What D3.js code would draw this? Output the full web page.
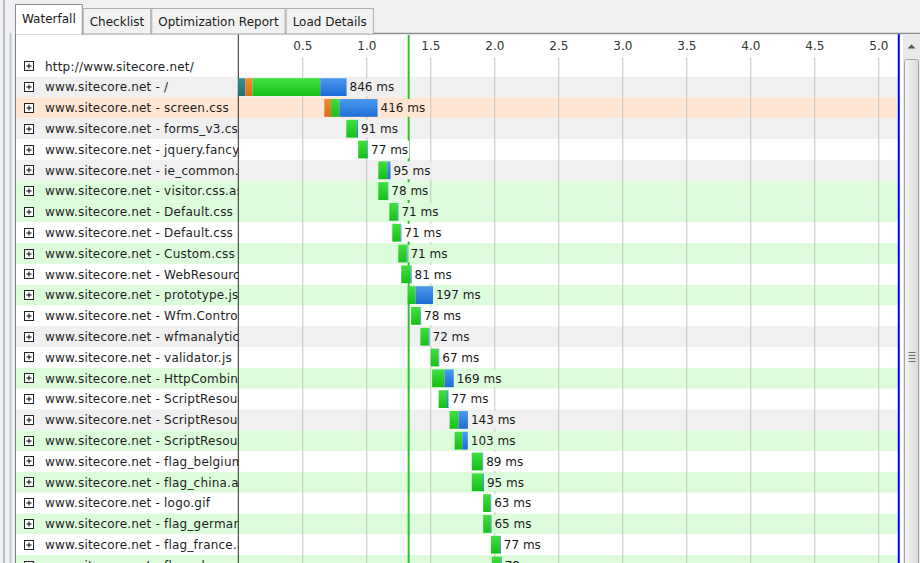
<!DOCTYPE html>
<html>
<head>
<meta charset="utf-8">
<script src="https://cdn.jsdelivr.net/npm/d3@7"></script>
<style>
  body { margin: 0; background: #f0f0f0; }
  svg { display: block; font-family: "DejaVu Sans", sans-serif; font-size: 12px; }
</style>
</head>
<body>
<div id="wrapper"></div>
<script>
// request names as shown in the list (clipped by the column)
const resources = [
    "http://www.sitecore.net/",
    "www.sitecore.net - /",
    "www.sitecore.net - screen.css",
    "www.sitecore.net - forms_v3.css",
    "www.sitecore.net - jquery.fancybox.css",
    "www.sitecore.net - ie_common.css",
    "www.sitecore.net - visitor.css.aspx",
    "www.sitecore.net - Default.css",
    "www.sitecore.net - Default.css",
    "www.sitecore.net - Custom.css",
    "www.sitecore.net - WebResource.axd",
    "www.sitecore.net - prototype.js",
    "www.sitecore.net - Wfm.Controls.js",
    "www.sitecore.net - wfmanalytics.js",
    "www.sitecore.net - validator.js",
    "www.sitecore.net - HttpCombiner.ashx",
    "www.sitecore.net - ScriptResource.axd",
    "www.sitecore.net - ScriptResource.axd",
    "www.sitecore.net - ScriptResource.axd",
    "www.sitecore.net - flag_belgium.gif",
    "www.sitecore.net - flag_china.aspx",
    "www.sitecore.net - logo.gif",
    "www.sitecore.net - flag_germany.gif",
    "www.sitecore.net - flag_france.aspx",
    "www.sitecore.net - flag_uk.aspx"
];
// timings in ms (null = page row, no bar)
const startMs    = [null, 0, 672, 844, 937, 1094, 1094, 1180, 1203, 1250, 1273, 1324, 1350, 1422, 1503, 1514, 1565, 1651, 1690, 1824, 1824, 1913, 1913, 1974, 1980];
const dnsMs      = [0, 55, 0, 0, 0, 0, 0, 0, 0, 0, 0, 0, 0, 0, 0, 0, 0, 0, 0, 0, 0, 0, 0, 0, 0];
const connectMs  = [0, 55, 53, 0, 0, 0, 0, 0, 0, 0, 0, 0, 0, 0, 0, 0, 0, 0, 0, 0, 0, 0, 0, 0, 0];
const waitMs     = [0, 530, 65, 83, 72, 70, 74, 66, 66, 66, 74, 60, 73, 66, 62, 97, 66, 70, 60, 84, 88, 58, 60, 70, 72];
const downloadMs = [0, 206, 298, 8, 5, 25, 4, 5, 5, 5, 7, 137, 5, 6, 5, 72, 11, 73, 43, 5, 7, 5, 5, 7, 6];
// row highlight category
const rowKind = ["none", "alt", "warn", "alt", "none", "alt", "ok", "ok", "none", "ok", "none", "ok", "none",
                 "alt", "none", "ok", "none", "alt", "ok", "none", "ok", "none", "ok", "none", "ok"];
const tickSeconds = [0.5, 1.0, 1.5, 2.0, 2.5, 3.0, 3.5, 4.0, 4.5, 5.0];
const tabNames = ["Waterfall", "Checklist", "Optimization Report", "Load Details"];
const domReadyMs = 1331;
const pageLoadMs = 5160;

function buildChart() {
    const width = 920, height = 563;
    const box = { left: 15.5, top: 33.5, right: 903, labelEnd: 238.3, headerBottom: 55.9, plotEnd: 897.5 };
    const rowH = 20.8;

    const kindColor = { none: "#ffffff", alt: "#f0f0f0", warn: "#ffe6d2", ok: "#dcfcdc" };
    const segNames = ["dns", "connect", "wait", "download"];
    const segCols = { dns: ["#3a8f96", "#226e76"], connect: ["#f08c30", "#d8701a"],
                      wait: ["#40e040", "#16c016"], download: ["#4d9af0", "#1f6cd6"] };

    const svg = d3.select("#wrapper").append("svg")
        .attr("width", width).attr("height", height);

    const defs = svg.append("defs");
    segNames.forEach(s => {
        const g = defs.append("linearGradient").attr("id", "g-" + s)
            .attr("x1", 0).attr("y1", 0).attr("x2", 0).attr("y2", 1);
        g.append("stop").attr("offset", "0%").attr("stop-color", segCols[s][0]);
        g.append("stop").attr("offset", "100%").attr("stop-color", segCols[s][1]);
    });
    const sg = defs.append("linearGradient").attr("id", "g-scroll")
        .attr("x1", 0).attr("y1", 0).attr("x2", 1).attr("y2", 0);
    sg.append("stop").attr("offset", "0%").attr("stop-color", "#f6f6f6");
    sg.append("stop").attr("offset", "100%").attr("stop-color", "#d9d9d9");
    defs.append("clipPath").attr("id", "labelClip")
        .append("rect").attr("x", 16).attr("y", 0).attr("width", box.labelEnd - 16).attr("height", height);

    const x = d3.scaleLinear().domain([0, 5000]).range([box.labelEnd, box.labelEnd + 640]);
    const xs = d3.scaleLinear().domain([0, 5]).range(x.range());
    const y = d3.scaleBand().domain(d3.range(resources.length))
        .range([box.headerBottom, box.headerBottom + rowH * resources.length]);

    // white content area
    svg.append("rect").attr("x", box.left).attr("y", box.top)
        .attr("width", box.right - box.left).attr("height", height - box.top).attr("fill", "#fff");

    // row backgrounds
    svg.append("g").selectAll("rect").data(resources).join("rect")
        .attr("x", 16).attr("y", (d, i) => y(i))
        .attr("width", box.plotEnd - 16).attr("height", y.bandwidth())
        .attr("fill", (d, i) => kindColor[rowKind[i]]);

    // gridlines
    const grid = svg.append("g").attr("transform", "translate(0,57)")
        .call(d3.axisBottom(xs).tickValues(tickSeconds).tickSize(height - 57).tickFormat(""));
    grid.select(".domain").remove();
    grid.selectAll("line").attr("stroke", "#c6c6c6");

    // axis labels
    const axis = svg.append("g").attr("transform", "translate(0,49.5)")
        .call(d3.axisTop(xs).tickValues(tickSeconds).tickSize(0).tickPadding(0).tickFormat(d3.format(".1f")));
    axis.select(".domain").remove();
    axis.selectAll("text").attr("fill", "#333").style("font-family", "DejaVu Sans").style("font-size", "12px");

    // DOM ready marker
    svg.append("line").attr("x1", x(domReadyMs)).attr("x2", x(domReadyMs))
        .attr("y1", 35).attr("y2", height).attr("stroke", "#2cc52c").attr("stroke-width", 2);

    // column divider
    svg.append("line").attr("x1", box.labelEnd).attr("x2", box.labelEnd)
        .attr("y1", box.top).attr("y2", height).attr("stroke", "#2a2a2a").attr("stroke-width", 1);

    // labels
    const rows = svg.append("g").attr("clip-path", "url(#labelClip)");
    rows.selectAll("text").data(resources).join("text")
        .attr("x", 45).attr("y", (d, i) => y(i) + y.bandwidth() / 2)
        .attr("dy", "0.36em").attr("fill", "#1e1e1e")
        .style("letter-spacing", "0.2px").text(d => d);

    const plus = svg.append("g").selectAll("g").data(resources).join("g")
        .attr("transform", (d, i) => `translate(24.5,${Math.round(y(i) + y.bandwidth() / 2 - 5) + 0.5})`);
    plus.append("rect").attr("width", 9).attr("height", 9).attr("fill", "#fff")
        .attr("stroke", "#222").attr("stroke-width", 1);
    plus.append("path").attr("d", "M2,4.5H7M4.5,2V7").attr("stroke", "#000").attr("stroke-width", 1);

    // bars
    const barData = [];
    resources.forEach((r, i) => {
        if (startMs[i] === null) return;
        const lens = [dnsMs[i], connectMs[i], waitMs[i], downloadMs[i]];
        let t = startMs[i];
        lens.forEach((len, k) => {
            if (len > 0) barData.push({ i, seg: segNames[k], t0: t, t1: t + len });
            t += len;
        });
    });
    svg.append("g").selectAll("rect").data(barData).join("rect")
        .attr("x", d => x(d.t0)).attr("width", d => x(d.t1) - x(d.t0))
        .attr("y", d => y(d.i) + 1.5).attr("height", y.bandwidth() - 3)
        .attr("fill", d => `url(#g-${d.seg})`);

    // duration labels with row-coloured backing
    const idx = d3.range(resources.length).filter(i => startMs[i] !== null);
    const lab = svg.append("g").selectAll("g").data(idx).join("g");
    lab.each(function (i) {
        const total = dnsMs[i] + connectMs[i] + waitMs[i] + downloadMs[i];
        const g = d3.select(this);
        const bg = g.append("rect");
        const t = g.append("text")
            .attr("x", x(startMs[i] + total) + 3)
            .attr("y", y(i) + y.bandwidth() / 2).attr("dy", "0.36em")
            .attr("fill", "#1a1a1a").text(total + " ms");
        const w = t.node().getComputedTextLength();
        bg.attr("x", x(startMs[i] + total) + 1).attr("width", w + 3)
            .attr("y", y(i) + 1.5).attr("height", y.bandwidth() - 3)
            .attr("fill", kindColor[rowKind[i]]);
    });

    // page load marker
    svg.append("rect").attr("x", x(pageLoadMs) - 1).attr("width", 2)
        .attr("y", box.top).attr("height", height - box.top).attr("fill", "#0000ff");

    // box top border
    svg.append("line").attr("x1", box.left).attr("x2", width).attr("y1", box.top).attr("y2", box.top)
        .attr("stroke", "#8a8d94").attr("stroke-width", 1.5);
    svg.append("line").attr("x1", box.left).attr("x2", box.left).attr("y1", box.top).attr("y2", height)
        .attr("stroke", "#7a7d84");

    // scrollbar
    svg.append("rect").attr("x", 903).attr("y", 34).attr("width", 17).attr("height", height - 34).attr("fill", "#e9e9e9");
    svg.append("path").attr("d", "M907.5,48.5L911.5,44.5L915.5,48.5Z").attr("fill", "#505050");
    svg.append("rect").attr("x", 904.5).attr("y", 59.5).attr("width", 14).attr("height", 540).attr("rx", 2)
        .attr("fill", "url(#g-scroll)").attr("stroke", "#a2a2a2");
    svg.append("g").selectAll("line").data([352, 355, 358, 361]).join("line")
        .attr("x1", 908.5).attr("x2", 915.5).attr("y1", d => d + 0.5).attr("y2", d => d + 0.5)
        .attr("stroke", "#6c6c6c");

    // left chrome
    svg.append("line").attr("x1", 4).attr("x2", 4).attr("y1", 0).attr("y2", height).attr("stroke", "#b4bdc9").attr("stroke-width", 2);
    svg.append("line").attr("x1", 10.5).attr("x2", 10.5).attr("y1", 33).attr("y2", height).attr("stroke", "#c3c9d2").attr("stroke-width", 2);

    // tabs
    const tabs = svg.append("g");
    let tx = 15;
    tabNames.forEach((name, k) => {
        const sel = k === 0;
        const g = tabs.append("g");
        const r = g.append("rect");
        const t = g.append("text").attr("y", sel ? 22.5 : 26).attr("fill", "#1a1a1a").text(name);
        const w = t.node().getComputedTextLength() + 14;
        t.attr("x", tx + 7);
        const top = sel ? 4.5 : 8.5;
        r.attr("x", tx + 0.5).attr("y", top).attr("width", w - 1).attr("height", 34 - top)
            .attr("fill", sel ? "#ffffff" : "#f2f2f2").attr("stroke", sel ? "#898c95" : "#a9acb2");
        if (sel) {
            g.append("line").attr("x1", tx + 1).attr("x2", tx + w - 1).attr("y1", 33.5).attr("y2", 33.5)
                .attr("stroke", "#fff").attr("stroke-width", 2);
        }
        tx += w;
    });
}

buildChart();
</script>
</body>
</html>
